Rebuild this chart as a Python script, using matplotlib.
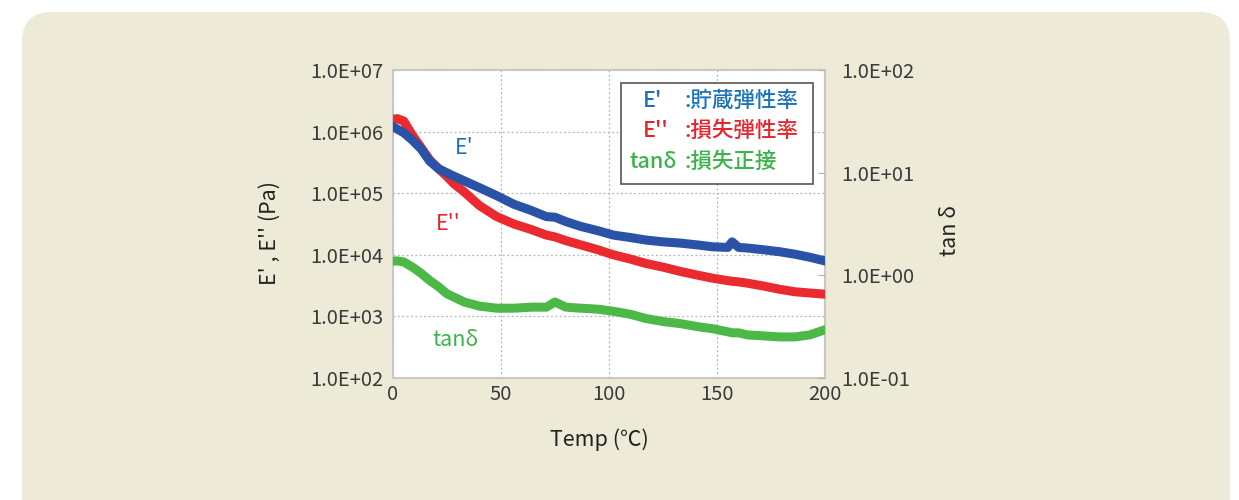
import matplotlib.pyplot as plt
from matplotlib.patches import FancyBboxPatch, Rectangle

plt.rcParams['font.family'] = ['Noto Sans CJK JP', 'DejaVu Sans']

# 温度 (℃)
temp = [0, 2, 5, 9, 13, 17, 21, 25, 28, 33, 40, 48, 56, 64, 71, 75, 80, 87, 95, 102,
        110, 117, 125, 133, 141, 148, 155, 157, 160, 164, 172, 179, 186, 193, 200]
# log10 E' (Pa)
e_store = [6.08, 6.04, 5.98, 5.86, 5.72, 5.52, 5.40, 5.33, 5.28, 5.20, 5.09, 4.96, 4.82,
           4.72, 4.62, 4.61, 4.54, 4.46, 4.39, 4.32, 4.28, 4.24, 4.21, 4.19, 4.16, 4.13,
           4.12, 4.21, 4.12, 4.11, 4.08, 4.05, 4.01, 3.96, 3.90]
# log10 E'' (Pa)
e_loss = [6.20, 6.21, 6.17, 5.94, 5.74, 5.54, 5.40, 5.27, 5.16, 5.02, 4.80, 4.62, 4.50,
          4.41, 4.32, 4.29, 4.23, 4.16, 4.08, 4.00, 3.93, 3.86, 3.80, 3.73, 3.67, 3.62,
          3.58, 3.57, 3.56, 3.54, 3.49, 3.44, 3.40, 3.38, 3.36]
# log10 tanδ
tan_d = [0.14, 0.14, 0.13, 0.08, 0.02, -0.05, -0.11, -0.18, -0.21, -0.26, -0.30, -0.32,
         -0.32, -0.31, -0.31, -0.26, -0.31, -0.32, -0.33, -0.35, -0.38, -0.42, -0.45,
         -0.47, -0.50, -0.52, -0.55, -0.56, -0.56, -0.58, -0.59, -0.60, -0.60, -0.58, -0.53]

left_ticks = ['1.0E+02', '1.0E+03', '1.0E+04', '1.0E+05', '1.0E+06', '1.0E+07']
right_ticks = ['1.0E-01', '1.0E+00', '1.0E+01', '1.0E+02']

blue_line = '#2a52a6'
red_line = '#ea2a2e'
green_line = '#4cb848'
blue_txt = '#1b72bb'
red_txt = '#e8242b'
green_txt = '#3bb34a'
grey_txt = '#3a3a3a'

W, H = 1239, 500
fig = plt.figure(figsize=(12.39, 5.0), dpi=100)
fig.patch.set_facecolor('white')
bg = FancyBboxPatch((0.22, -0.5), 12.08, 5.38, boxstyle='round,pad=0,rounding_size=0.3',
                    transform=fig.dpi_scale_trans, facecolor='#edead7', edgecolor='none',
                    zorder=-10)
fig.patches.append(bg)

ax = fig.add_axes([393 / W, 1 - 378 / H, 432 / W, 308 / H])
ax.set_facecolor('white')
ax.set_xlim(0, 200)
ax.set_ylim(2, 7)
ax.set_xticks([0, 50, 100, 150, 200])
ax.set_yticks(range(2, 8))
ax.set_yticklabels(left_ticks)
ax.tick_params(length=0, labelsize=14.5, colors=grey_txt, pad=7)
ax.tick_params(axis='x', pad=4)
ax.grid(True, color='#b5b5b5', linestyle=(0, (1.5, 2)), linewidth=0.9)
for s in ax.spines.values():
    s.set_color('#c8c8c8')
    s.set_linewidth(1.5)

ax.plot(temp, e_store, color=blue_line, lw=6.5, solid_capstyle='round', zorder=4)
ax.plot(temp, e_loss, color=red_line, lw=6.5, solid_capstyle='round', zorder=3)

ax2 = ax.twinx()
ax2.set_ylim(-1, 2)
ax2.set_yticks(range(-1, 3))
ax2.set_yticklabels(right_ticks)
ax2.tick_params(direction='in', length=5, labelsize=14.5, colors=grey_txt, pad=12)
ax2.tick_params(axis='y', color='#b0b0b0')
for s in ax2.spines.values():
    s.set_visible(False)
ax2.plot(temp, tan_d, color=green_line, lw=6.5, solid_capstyle='round', zorder=3)

# axis titles
fig.text(270 / W, 1 - 233 / H, "E' , E'' (Pa)", fontsize=15.5, color='#222222',
         rotation=90, ha='center', va='center')
fig.text(950 / W, 1 - 230 / H, 'tan δ', fontsize=15.5, color='#222222',
         rotation=90, ha='center', va='center')
fig.text(599 / W, 1 - 440 / H, 'Temp (℃)', fontsize=15.5, color='#222222',
         ha='center', va='center')

# curve labels
ax.text(28.5, 5.74, "E'", color=blue_txt, fontsize=15.5, ha='left', va='center')
ax.text(20, 4.5, "E''", color=red_txt, fontsize=15.5, ha='left', va='center')
ax.text(18, 2.62, 'tanδ', color=green_txt, fontsize=15.5, ha='left', va='center')

# legend box
box = Rectangle((621 / W, 1 - 184 / H), 192 / W, 101 / H,
                transform=fig.transFigure, facecolor='white', edgecolor='#555555',
                linewidth=1.2, zorder=5)
fig.patches.append(box)
rows = [("E'", ':貯蔵弾性率', blue_txt, 101, 643),
        ("E''", ':損失弾性率', red_txt, 131, 643),
        ('tanδ', ':損失正接', green_txt, 162, 630)]
for sym, name, col, yp, xs in rows:
    y = 1 - yp / H
    fig.text(xs / W, y, sym, color=col, fontsize=15.5, ha='left', va='center',
             weight='medium', zorder=6)
    fig.text(685 / W, y, name, color=col, fontsize=15.5, ha='left', va='center',
             weight='medium', zorder=6)

fig.savefig('out.png', dpi=100, facecolor=fig.get_facecolor())
